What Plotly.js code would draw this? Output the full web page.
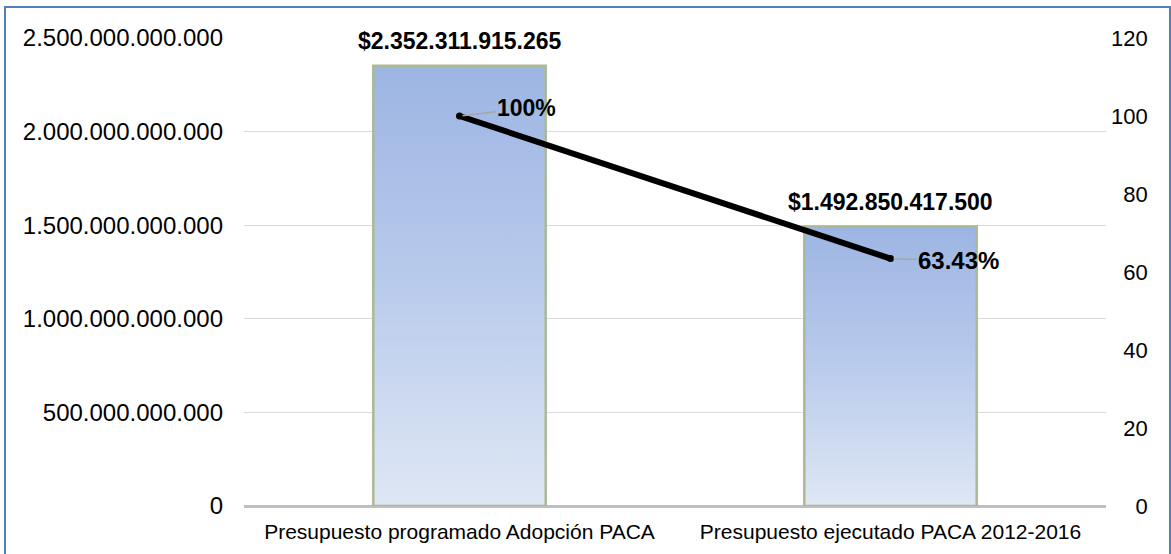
<!DOCTYPE html>
<html>
<head>
<meta charset="utf-8">
<script src="https://cdn.plot.ly/plotly-3.0.1.min.js"></script>
<style>
  html, body { margin: 0; padding: 0; background: #ffffff; overflow: hidden; }
  #frame { position: absolute; left: 4px; top: 6px; width: 1163px; height: 600px;
           border-left: 2px solid #4f81bd; border-top: 2px solid #4f81bd; border-right: 2px solid #4f81bd; }
  #chart { position: absolute; left: 0; top: 0; width: 1171px; height: 554px; }
</style>
</head>
<body>
<div id="frame"></div>
<div id="chart"></div>
<script>
// ---- data ----
const categories = ["Presupuesto programado Adopción PACA", "Presupuesto ejecutado PACA 2012-2016"];
const budgetValues = [2352311915265, 1492850417500];
const percentValues = [100, 63.43];
const leftTickValues = [0, 500000000000, 1000000000000, 1500000000000, 2000000000000, 2500000000000];
const rightTickValues = [0, 20, 40, 60, 80, 100, 120];

function fmtThousands(v) {
  return Math.round(v).toString().replace(/\B(?=(\d{3})+(?!\d))/g, ".");
}
const budgetLabels = budgetValues.map(v => "$" + fmtThousands(v));
const percentLabels = percentValues.map(v => v + "%");
// right-aligned right-axis labels (padded with figure spaces)
const rightTickText = rightTickValues.map(v => String(v).padStart(3, "\u2007"));

const FONT = "Liberation Sans, Arial, sans-serif";

const barTrace = {
  type: "bar",
  x: categories,
  y: budgetValues,
  width: 0.4,
  marker: { color: "#bccdec", line: { color: "#a9ba95", width: 2.5 } },
  hoverinfo: "skip",
  yaxis: "y"
};

const lineTrace = {
  type: "scatter",
  mode: "lines+markers",
  x: categories,
  y: percentValues,
  yaxis: "y2",
  line: { color: "#000000", width: 6 },
  marker: { color: "#000000", size: 7 },
  hoverinfo: "skip"
};

const annotations = [];
categories.forEach((c, i) => {
  annotations.push({
    x: c, y: budgetValues[i], xref: "x", yref: "y",
    text: "<b>" + budgetLabels[i] + "</b>",
    showarrow: false, yanchor: "middle", yshift: 25,
    font: { family: FONT, size: 23, color: "#000000" }
  });
});
const pctOffsets = [[67, -8], [68, 2]];
const pctSizes = [23, 24];
categories.forEach((c, i) => {
  annotations.push({
    x: c, y: percentValues[i], xref: "x", yref: "y2",
    text: "<b>" + percentLabels[i] + "</b>",
    showarrow: true, arrowhead: 0, arrowwidth: 1.5, arrowcolor: "#a6a6a6",
    ax: pctOffsets[i][0], ay: pctOffsets[i][1], standoff: 3,
    font: { family: FONT, size: pctSizes[i], color: "#000000" }
  });
});

const layout = {
  width: 1171, height: 554,
  margin: { l: 244, r: 65, t: 38, b: 48, pad: 0 },
  paper_bgcolor: "rgba(0,0,0,0)",
  plot_bgcolor: "rgba(0,0,0,0)",
  separators: ",.",
  showlegend: false,
  font: { family: FONT, color: "#000000" },
  xaxis: {
    type: "category",
    showgrid: false, zeroline: false, showline: false,
    ticks: "", ticklabelstandoff: 11,
    tickfont: { family: FONT, size: 21, color: "#000000" }
  },
  yaxis: {
    range: [0, 2500000000000],
    tickvals: leftTickValues,
    tickformat: ",.0f",
    showgrid: true, gridcolor: "#d9d9d9", gridwidth: 1,
    zeroline: true, zerolinecolor: "#bfbfbf", zerolinewidth: 3,
    showline: false, ticks: "", ticklabelstandoff: 20,
    tickfont: { family: FONT, size: 24, color: "#000000" }
  },
  yaxis2: {
    overlaying: "y", side: "right",
    range: [0, 120],
    tickvals: rightTickValues,
    ticktext: rightTickText,
    showgrid: false, zeroline: false, showline: false,
    ticks: "", ticklabelstandoff: 4,
    tickfont: { family: FONT, size: 22, color: "#000000" }
  },
  annotations: annotations
};

Plotly.newPlot("chart", [barTrace, lineTrace], layout, { staticPlot: true, displayModeBar: false }).then(gd => {
  const svg = gd.querySelector(".main-svg");
  const NS = "http://www.w3.org/2000/svg";
  let defs = svg.querySelector("defs");
  if (!defs) { defs = document.createElementNS(NS, "defs"); svg.insertBefore(defs, svg.firstChild); }
  const grad = document.createElementNS(NS, "linearGradient");
  grad.setAttribute("id", "barGradient");
  grad.setAttribute("x1", "0"); grad.setAttribute("y1", "0");
  grad.setAttribute("x2", "0"); grad.setAttribute("y2", "1");
  [["0", "#9db5e3"], ["0.5", "#b9cbec"], ["1", "#dfe7f4"]].forEach(([o, c]) => {
    const s = document.createElementNS(NS, "stop");
    s.setAttribute("offset", o); s.setAttribute("stop-color", c);
    grad.appendChild(s);
  });
  defs.appendChild(grad);
  gd.querySelectorAll(".barlayer .point path").forEach(p => {
    p.style.fill = "url(#barGradient)";
  });
});
</script>
</body>
</html>
